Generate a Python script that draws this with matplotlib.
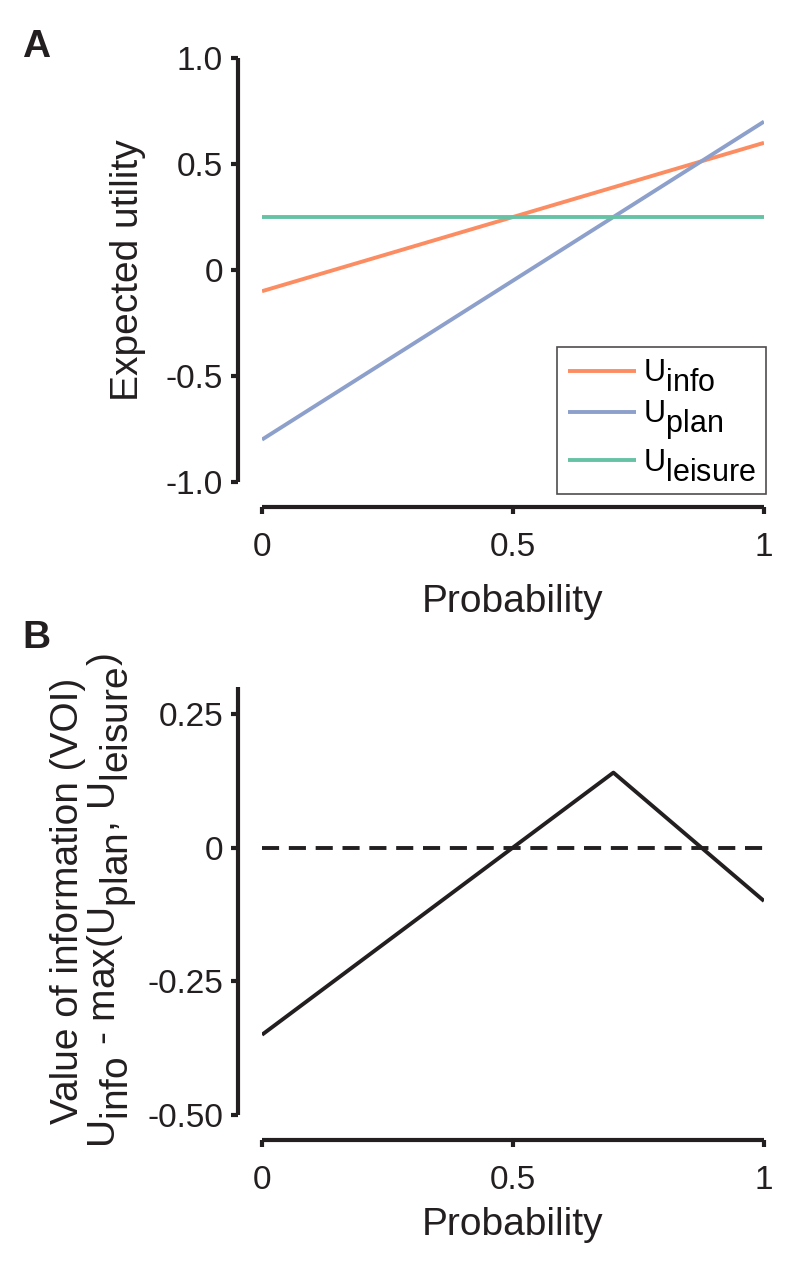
import matplotlib
matplotlib.use("Agg")
import matplotlib.pyplot as plt
import numpy as np

# Full-size, well-lowered subscripts (as in the reference's TeX-style labels)
try:
    import matplotlib._mathtext as _mt
    _mt.SHRINK_FACTOR = 1.0
    _mt.FontConstantsBase.sub1 = 0.63
except Exception:
    pass

plt.rcParams['font.family'] = ['Liberation Sans', 'DejaVu Sans']
plt.rcParams['mathtext.fontset'] = 'custom'
plt.rcParams['mathtext.rm'] = 'Liberation Sans'
plt.rcParams['mathtext.it'] = 'Liberation Sans:italic'
plt.rcParams['mathtext.bf'] = 'Liberation Sans:bold'

# Data
prob = [0.0, 0.5, 0.7, 1.0]
u_info = [-0.1, 0.25, 0.39, 0.6]
u_plan = [-0.8, -0.05, 0.25, 0.7]
u_leisure = [0.25, 0.25, 0.25, 0.25]
voi = [-0.35, 0.0, 0.14, -0.1]
zero_x = [0, 1]
zero_y = [0, 0]

a_yticks = [-1.0, -0.5, 0, 0.5, 1.0]
a_yticklabels = ['-1.0', '-0.5', '0', '0.5', '1.0']
b_yticks = [-0.5, -0.25, 0, 0.25]
b_yticklabels = ['-0.50', '-0.25', '0', '0.25']
xticks = [0, 0.5, 1]
xticklabels = ['0', '0.5', '1']

c_info = '#FC8D62'
c_plan = '#8DA0CB'
c_leis = '#66C2A5'
c_ink = '#231F20'

W, H = 800, 1273
fig = plt.figure(figsize=(W / 100, H / 100), dpi=100)

def fx(px):
    return px / W

def fy(py):
    return 1 - py / H

axA = fig.add_axes([fx(262), fy(482), fx(764) - fx(262), fy(58) - fy(482)])
axB = fig.add_axes([fx(262), fy(1115), fx(764) - fx(262), fy(687) - fy(1115)])

lw = 2.8
axA.plot(prob, u_info, color=c_info, lw=lw, label=r'U$_{\mathrm{info}}$', solid_capstyle='butt')
axA.plot(prob, u_plan, color=c_plan, lw=lw, label=r'U$_{\mathrm{plan}}$', solid_capstyle='butt')
axA.plot(prob, u_leisure, color=c_leis, lw=lw, label=r'U$_{\mathrm{leisure}}$', solid_capstyle='butt')

axB.plot(prob, voi, color=c_ink, lw=lw, solid_capstyle='butt')
axB.plot(zero_x, zero_y, color=c_ink, lw=lw, ls=(0, (4.4, 2.5)))

axA.set_ylim(-1.0, 1.0)
axB.set_ylim(-0.5, 0.3)

for ax, yt, ytl in [(axA, a_yticks, a_yticklabels), (axB, b_yticks, b_yticklabels)]:
    ax.set_xlim(0, 1)
    ax.set_xticks(xticks)
    ax.set_xticklabels(xticklabels)
    ax.set_yticks(yt)
    ax.set_yticklabels(ytl)
    for s in ['top', 'right']:
        ax.spines[s].set_visible(False)
    ax.spines['left'].set_position(('outward', 17))
    ax.spines['bottom'].set_position(('outward', 18))
    ax.spines['left'].set_linewidth(3)
    ax.spines['bottom'].set_linewidth(3)
    ax.spines['left'].set_color(c_ink)
    ax.spines['bottom'].set_color(c_ink)
    ax.spines['left'].set_capstyle('butt')
    ax.spines['bottom'].set_capstyle('butt')
    ax.tick_params(axis='both', direction='out', length=5, width=3, color=c_ink,
                   labelsize=24, labelcolor=c_ink)
    ax.tick_params(axis='x', pad=13)
    ax.tick_params(axis='y', pad=6)

axA.set_xlabel('Probability', fontsize=28, color=c_ink, labelpad=15)
axB.set_xlabel('Probability', fontsize=28, color=c_ink, labelpad=8)

axB.spines['left'].set_bounds(-0.5, 0.3)

axA.set_ylabel('Expected utility', fontsize=28, color=c_ink, labelpad=14)
axB.set_ylabel('Value of information (VOI)\n' + r'U$_{\mathrm{info}}$ - max(U$_{\mathrm{plan}}$, U$_{\mathrm{leisure}}$)',
               fontsize=28, color=c_ink, labelpad=6, linespacing=1.0)

leg = axA.legend(loc='lower right', bbox_to_anchor=(1.004, -0.028), fontsize=22, frameon=True,
                 fancybox=False, edgecolor=c_ink, handlelength=2.25, handletextpad=0.22,
                 borderpad=0.33, labelspacing=0.15, borderaxespad=0.0)
leg.get_frame().set_linewidth(1.2)
for line in leg.get_lines():
    line.set_linewidth(lw)

fig.text(fx(22), fy(57), 'A', fontsize=28, fontweight='bold', color=c_ink)
fig.text(fx(22), fy(648), 'B', fontsize=28, fontweight='bold', color=c_ink)

fig.savefig('out.png', dpi=100)
